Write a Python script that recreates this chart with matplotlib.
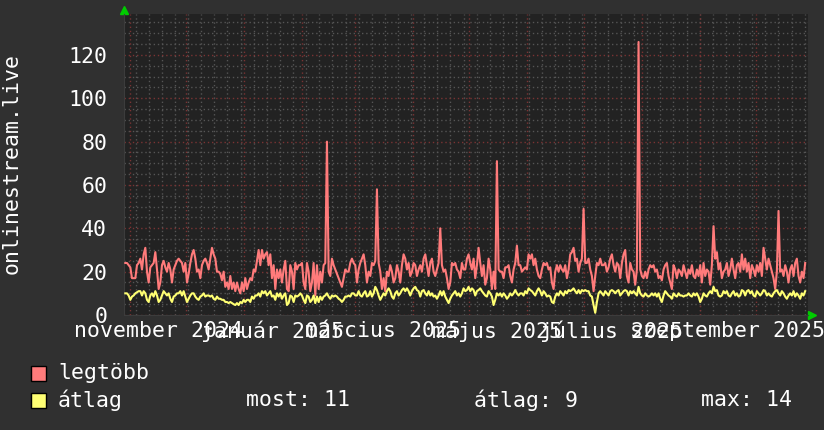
import matplotlib
matplotlib.use("Agg")
import matplotlib.pyplot as plt
import matplotlib.dates as mdates
from matplotlib.patches import Rectangle
from matplotlib.ticker import MultipleLocator
import pandas as pd

# napi értékek
legtobb = [
    24, 24, 23, 22, 17, 17, 17, 23, 24, 26, 21, 28, 31, 20, 15, 22, 23, 24, 29,
    21, 12, 15, 23, 25, 22, 20, 24, 21, 15, 21, 23, 25, 26, 25, 24, 20, 24, 15,
    19, 24, 28, 30, 26, 20, 21, 17, 23, 25, 26, 24, 21, 26, 31, 28, 26, 20, 20,
    19, 16, 20, 13, 15, 12, 18, 12, 15, 11, 15, 12, 10, 15, 11, 17, 12, 15, 17,
    16, 21, 20, 25, 30, 23, 30, 26, 28, 29, 23, 28, 17, 23, 12, 21, 17, 21, 15,
    21, 25, 12, 11, 23, 20, 12, 24, 21, 23, 23, 24, 15, 12, 24, 20, 11, 15, 24,
    9, 23, 12, 20, 15, 23, 24, 80, 20, 18, 26, 23, 21, 19, 17, 15, 13, 17, 21,
    20, 20, 24, 26, 24, 23,
    15, 21, 24, 26, 28, 23, 15, 20, 18, 24, 23, 25, 58, 24, 20, 12, 17, 11, 20,
    18, 23, 20, 15, 17, 23, 20, 15, 23, 28, 26, 21, 24, 18, 20, 24, 23, 18, 21,
    23, 20, 26, 28, 23, 18, 24, 26, 20, 18, 21, 24, 40, 23, 20, 21, 17, 12, 15,
    24, 23, 24, 21, 20, 17, 24, 21, 21, 26, 28, 24, 21, 26, 17, 23, 31, 24, 18,
    23, 14, 17, 26, 21, 12, 20, 12, 71, 21, 20, 20, 17, 22, 22, 23, 18, 15, 21,
    24, 32, 23, 23, 20, 21, 22, 21, 28, 26, 28, 23, 26, 21, 18, 17, 21, 24, 23,
    24, 21, 22, 15, 12, 20, 23, 20, 23, 21, 20, 23, 17, 21, 28, 29, 31, 25, 26,
    20, 24, 26, 49, 24, 24,
    26, 21, 18, 11, 18, 24, 23, 26, 23, 23, 24, 20, 22, 26, 28, 23, 20, 24, 23,
    17, 24, 28, 30, 18, 15, 24, 21, 20, 14, 21, 126, 21, 18, 17, 20, 17, 21, 23,
    22, 23, 20, 21, 17, 18, 16, 21, 23, 24, 18, 15, 12, 23, 21, 17, 21, 20, 18,
    23, 20, 17, 21, 19, 23, 18, 17, 21, 18, 23, 15, 24, 18, 21, 20, 14, 23, 41,
    26, 29, 21, 24, 17, 20, 21, 24, 18, 21, 26, 21, 17, 23, 24, 20, 28, 21, 26,
    20, 24, 17, 23, 21, 18, 23, 20, 24, 18, 31, 26, 21, 26, 23, 20, 17, 12, 20,
    48, 20, 21, 18, 23, 20, 15, 21, 23, 18, 24, 26, 18, 15, 20, 17, 24,
]
atlag = [
    10, 10, 9, 7, 8.5, 9, 10, 10.5, 11, 11, 9, 11, 10, 7, 6, 9, 10, 8.5, 11,
    9, 6, 7, 9, 11, 10, 9, 10, 7.5, 6, 8.5, 9, 10, 10, 11, 9, 11, 8.5, 6,
    7.5, 9, 10, 10, 8.5, 7.5, 7, 8.5, 9, 10, 8.5, 9, 9, 8.5, 9, 7.5, 7, 8.5, 7.5,
    7.5, 7, 7, 6, 6, 5.5, 6, 5.5, 5, 4.6, 5.5, 4.6, 6, 5.5, 7, 6, 7, 7, 6,
    8.5, 7.5, 9, 9, 10, 8.5, 11, 10, 11, 9, 10, 11, 8.5, 9, 7, 10, 8.5, 10, 7.5,
    9, 10, 4.6, 5.5, 9, 8.5, 6, 9, 8.5, 9, 10, 9, 7, 5.5, 9, 8.5, 6, 7, 9,
    5.5, 8.5, 6, 8.5, 7, 8.5, 9, 10, 8.5, 7.5, 9, 8.5, 9, 8.5, 7.5, 7, 6, 7, 8.5,
    8.5, 9, 8.5, 10, 10, 9,
    9, 11, 9, 8.5, 10, 11, 8.5, 9, 11, 8.5, 10, 13, 11.5, 9, 7, 8.5, 10, 9, 11,
    12.3, 11, 8.5, 7.5, 10, 11, 9, 10, 11.5, 12.3, 11, 12.3, 11, 9, 11, 12.3, 13, 11.5, 11,
    8.5, 11, 11.5, 10, 9, 11, 9, 10, 8.5, 9, 7.5, 9, 11, 9, 11, 8.5, 7, 5.5, 7.5,
    9, 10, 11, 9, 10, 8.5, 10, 12.3, 11, 11.5, 13, 11, 12.3, 11.5, 9, 11, 11.5, 12.3, 11,
    10, 9, 8.5, 11, 10, 8.5, 4.6, 7, 10, 9, 10, 8.5, 10, 9, 7.5, 8.5, 10, 9, 10,
    11.5, 10, 9, 10, 10, 9, 11, 10, 12.3, 11.5, 11, 10, 9, 11, 12.3, 11, 9, 11, 10,
    8.5, 9, 8.5, 6, 5.5, 8.5, 10, 9, 11, 10, 9, 11, 10, 11.5, 11, 11.5, 12.3, 11, 10,
    11.5, 10, 11.5, 11, 11.5, 11,
    11, 9, 8.5, 4.6, 1, 6, 10, 11, 10, 9, 11, 10, 9, 11, 11.5, 11, 10, 11, 11.5,
    9, 10, 11, 11.5, 11, 9, 11, 10, 11, 10, 9, 13, 10, 9, 8.5, 10, 9, 8.5, 9,
    10, 9, 10, 8.5, 10, 7.5, 6, 9, 11, 10, 9, 8.5, 7.5, 10, 9, 8.5, 10, 9, 9,
    8.5, 9, 9, 10, 9, 8.5, 10, 9, 10, 8.5, 6, 7.5, 10, 9, 8.5, 10, 11, 10, 13,
    11, 11.5, 9, 8.5, 9, 11, 10, 11, 9, 8.5, 10, 11, 9, 10, 8.5, 9, 11.5, 11, 9,
    11, 11.5, 10, 11, 9, 8.5, 11, 10, 9, 10, 11.5, 11, 9, 10, 9, 8.5, 10, 11, 11.5,
    10, 9, 11, 10, 8.5, 7.5, 9, 10, 9, 11, 8.5, 10, 9, 7.5, 10, 9, 11,
]

first_sample, last_sample = "2024-10-29 12:00", "2025-10-27 07:00"
x_from, x_to = "2024-10-28 19:00", "2025-10-28 19:00"

label_dates = ["2024-11-16", "2025-01-16", "2025-03-16",
               "2025-05-16", "2025-07-16", "2025-09-16"]
label_texts = ["november 2024", "január 2025", "március 2025",
               "május 2025", "július 2025", "szeptember 2025"]
y_ticks = [0, 20, 40, 60, 80, 100, 120]
y_top = 138.9

legend_names = ["legtöbb", "átlag"]
legend_stats = ["most: 11", "átlag: 9", "max: 14"]

# színek
BG = "#303030"
PLOT_BG = "#222222"
GRID = "#555555"
MGRID = "#7a3333"
RED = "#ff7b7b"
YELLOW = "#ffff73"
TXT = "#ffffff"
FONT = "DejaVu Sans Mono"
FS = 15.5

W, H = 824, 430
fig = plt.figure(figsize=(W / 100, H / 100), dpi=100, facecolor=BG)
ax = fig.add_axes([124 / W, 1 - 315 / H, 684 / W, 301 / H], facecolor=PLOT_BG)

t = pd.date_range(first_sample, last_sample, periods=len(legtobb))
ax.plot(t, legtobb, color=RED, lw=1.5, zorder=3)
ax.plot(t, atlag, color=YELLOW, lw=1.5, zorder=4)

ax.set_xlim(pd.Timestamp(x_from), pd.Timestamp(x_to))
ax.set_ylim(0, y_top)

# rács
ax.set_yticks(y_ticks)
ax.yaxis.set_minor_locator(MultipleLocator(5))
ax.xaxis.set_minor_locator(mdates.WeekdayLocator(byweekday=mdates.MO))
ax.grid(which="minor", color=GRID, lw=1, ls=(0, (1, 2)), zorder=1)
ax.grid(axis="y", which="major", color=MGRID, lw=1, ls=(0, (1, 2)), zorder=2)
month_starts = pd.date_range("2024-11-01", "2025-10-01", freq="MS")
ax.vlines(month_starts, 0, y_top, color=MGRID, lw=1, ls=(0, (1, 2)), zorder=2)

ax.set_xticks(pd.to_datetime(label_dates))
ax.set_xticklabels(label_texts)
ax.tick_params(axis="both", which="both", length=0, colors=TXT, labelsize=FS)
ax.tick_params(axis="y", pad=12)
ax.tick_params(axis="x", pad=4)
for lab in ax.get_xticklabels() + ax.get_yticklabels():
    lab.set_family(FONT)

for side in ["top", "right"]:
    ax.spines[side].set_visible(False)
for side in ["left", "bottom"]:
    ax.spines[side].set_color("#3c3c3c")

# zöld nyilak
ax.plot([0], [1 + 4 / 301], marker="^", color="#00cc00", ms=6,
        transform=ax.transAxes, clip_on=False)
ax.plot([1 + 4 / 684], [0], marker=">", color="#00cc00", ms=6,
        transform=ax.transAxes, clip_on=False)

fig.text(12 / W, 1 - 164 / H, "onlinestream.live", rotation=90, ha="center",
         va="center", color=TXT, fontsize=FS, family=FONT)

# jelmagyarázat
for i, (name, col) in enumerate(zip(legend_names, [RED, YELLOW])):
    yc = 373 + 27 * i
    fig.patches.append(Rectangle((31 / W, 1 - (yc + 7.5) / H), 15 / W, 15 / H,
                                 facecolor=col, edgecolor="black", lw=1,
                                 transform=fig.transFigure))
    fig.text(58 / W, 1 - yc / H, name, va="center", color=TXT,
             fontsize=FS, family=FONT)
for xs, s in zip([246, 474, 701], legend_stats):
    fig.text(xs / W, 1 - 400 / H, s, va="center", color=TXT,
             fontsize=FS, family=FONT)

fig.savefig("out.png", dpi=100, facecolor=BG)
